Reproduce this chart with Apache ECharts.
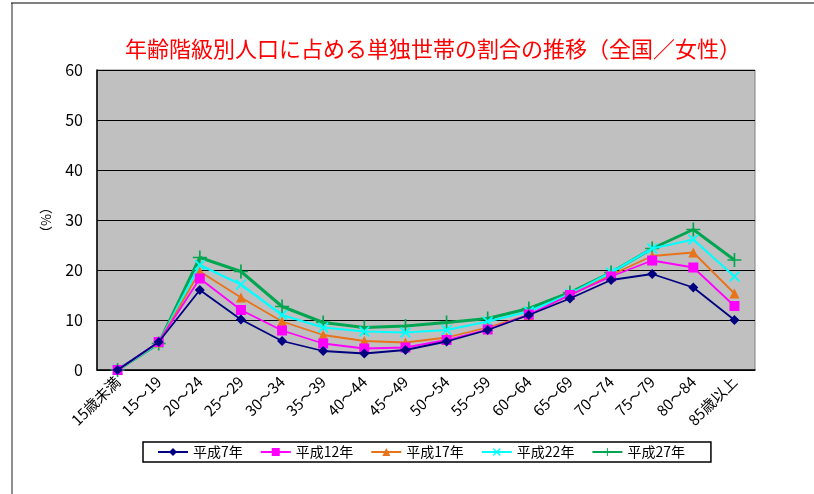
<!DOCTYPE html>
<html>
<head>
<meta charset="utf-8">
<script src="https://cdn.jsdelivr.net/npm/echarts@6/dist/echarts.min.js"></script>
<style>
html,body{margin:0;padding:0;background:#fff;}
#c{width:814px;height:494px;}
</style>
</head>
<body>
<div id="c"></div>
<script>
var titleText = '年齢階級別人口に占める単独世帯の割合の推移（全国／女性）';
var categories = ['15歳未満','15～19','20～24','25～29','30～34','35～39','40～44','45～49','50～54','55～59','60～64','65～69','70～74','75～79','80～84','85歳以上'];
var seriesNames = ['平成7年','平成12年','平成17年','平成22年','平成27年'];
var h07 = [0.0, 5.6, 16.0, 10.1, 5.8, 3.8, 3.3, 4.0, 5.7, 8.0, 11.0, 14.3, 18.0, 19.2, 16.5, 10.0];
var h12 = [0.0, 5.6, 18.3, 12.0, 7.9, 5.3, 4.3, 4.5, 6.0, 8.1, 11.1, 15.0, 18.7, 21.9, 20.5, 12.8];
var h17 = [0.0, 5.5, 19.7, 14.5, 9.7, 7.0, 5.8, 5.5, 6.5, 8.5, 11.0, 15.0, 19.0, 22.8, 23.5, 15.3];
var h22 = [0.0, 5.4, 21.0, 17.1, 11.0, 8.5, 7.7, 7.5, 8.0, 9.7, 11.7, 15.2, 19.5, 24.3, 26.1, 18.7];
var h27 = [0.0, 5.3, 22.5, 19.7, 12.7, 9.5, 8.5, 8.8, 9.5, 10.3, 12.3, 15.5, 19.5, 24.3, 28.1, 22.0];
var yTicks = [0, 10, 20, 30, 40, 50, 60];

var colors = ['#000080', '#FF00FF', '#E8731A', '#00FFFF', '#00A651'];
var symbols = [
  'diamond',
  'rect',
  'triangle',
  'path://M0,1.2L1.2,0L10,8.8L8.8,10Z M8.8,0L10,1.2L1.2,10L0,8.8Z',
  'path://M4.4,0h1.2v10h-1.2z M0,4.4h10v1.2h-10z'
];
var sizes = [10, 10, 10, 11, 14];
var widths = [1.8, 1.8, 1.8, 2.2, 3];
var dataSets = [h07, h12, h17, h22, h27];
var font = '"Noto Sans CJK JP", "Noto Sans", sans-serif';

var chart = echarts.init(document.getElementById('c'), null, {renderer: 'canvas'});
var series = seriesNames.map(function (n, i) {
  return {
    name: n,
    type: 'line',
    data: dataSets[i],
    symbol: symbols[i],
    symbolSize: sizes[i],
    showAllSymbol: true,
    lineStyle: {color: colors[i], width: widths[i]},
    itemStyle: {color: colors[i]},
    emphasis: {disabled: true},
    z: 3 + (4 - i)
  };
});

chart.setOption({
  animation: false,
  backgroundColor: '#ffffff',
  title: {
    text: titleText,
    left: 120,
    top: 33,
    textStyle: {color: '#FF0000', fontSize: 22, fontWeight: 'normal', fontFamily: font}
  },
  graphic: [
    {type: 'line', shape: {x1: 11, y1: 3, x2: 814, y2: 3}, style: {stroke: '#808080', lineWidth: 2}, silent: true},
    {type: 'line', shape: {x1: 12, y1: 3, x2: 12, y2: 494}, style: {stroke: '#202020', lineWidth: 1}, silent: true}
  ],
  legend: {
    data: seriesNames,
    left: 143,
    top: 442,
    padding: [3, 26, 3, 14],
    itemGap: 17,
    itemWidth: 30,
    itemHeight: 10,
    borderColor: '#000',
    borderWidth: 1.5,
    textStyle: {fontSize: 14, color: '#000', fontFamily: font}
  },
  grid: {
    left: 97,
    right: 59,
    top: 70,
    bottom: 124,
    show: true,
    backgroundColor: '#C0C0C0',
    borderColor: '#808080',
    borderWidth: 1
  },
  xAxis: {
    type: 'category',
    data: categories,
    boundaryGap: true,
    axisLine: {lineStyle: {color: '#000', width: 1.5}},
    axisTick: {inside: true, length: 5, lineStyle: {color: '#000'}},
    axisLabel: {rotate: 45, fontSize: 15, color: '#000', margin: 9, fontFamily: font, interval: 0},
    splitLine: {show: false}
  },
  yAxis: {
    type: 'value',
    min: yTicks[0],
    max: yTicks[yTicks.length - 1],
    interval: 10,
    name: '（%）',
    nameLocation: 'middle',
    nameRotate: -90,
    nameGap: 45,
    nameTextStyle: {fontSize: 13, color: '#000', fontFamily: font},
    axisLine: {show: true, lineStyle: {color: '#000', width: 1.5}},
    axisTick: {show: false},
    axisLabel: {fontSize: 16, color: '#000', margin: 14, fontFamily: font},
    splitLine: {lineStyle: {color: '#000', width: 1}}
  },
  series: series
});
</script>
</body>
</html>
